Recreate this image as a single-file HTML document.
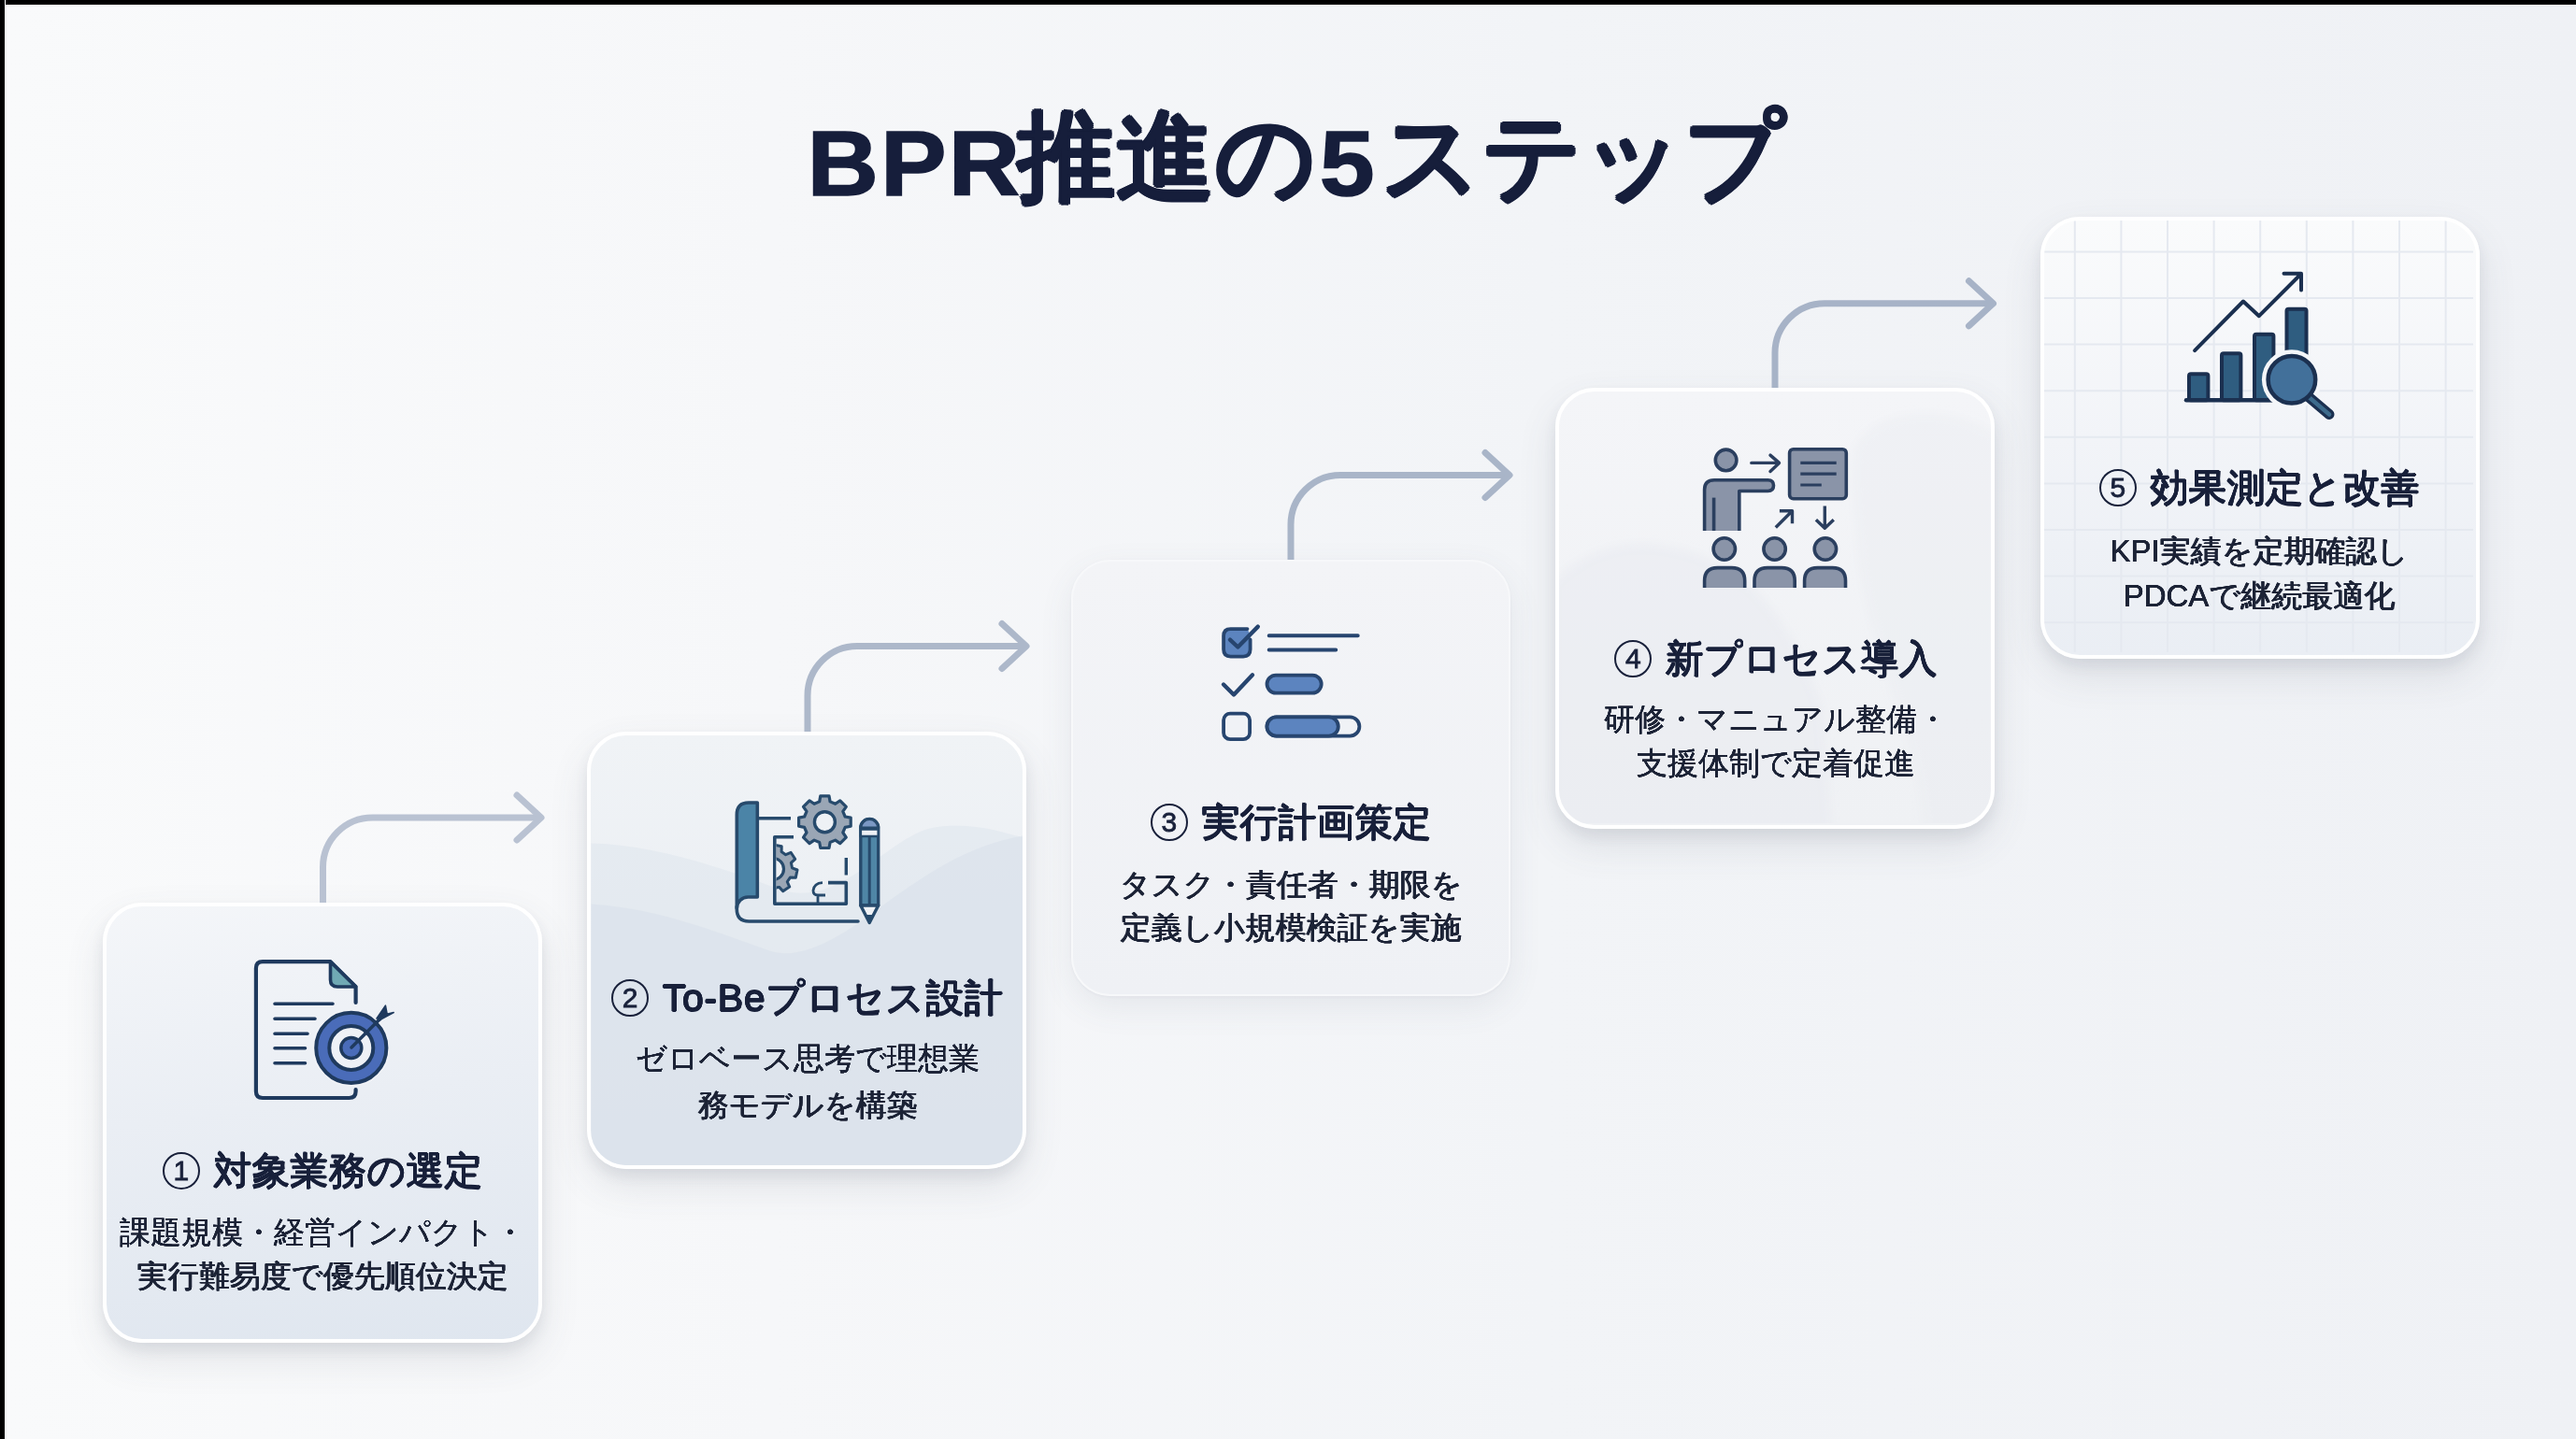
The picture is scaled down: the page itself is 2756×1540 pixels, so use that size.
<!DOCTYPE html>
<html lang="ja">
<head>
<meta charset="utf-8">
<style>
html,body{margin:0;padding:0;}
body{width:2756px;height:1540px;overflow:hidden;position:relative;font-family:"Liberation Sans",sans-serif;color:#1a2238;
background:linear-gradient(90deg,#f9fafb 0%,#f6f7f9 30%,#f2f4f7 60%,#eff1f5 100%);}
.bt{position:absolute;left:0;top:0;width:2756px;height:5px;background:#000;box-shadow:0 1px 0 #fff;}
.bl{position:absolute;left:0;top:0;width:5px;height:1540px;background:#000;box-shadow:1px 0 0 #fff;}
.title{position:absolute;left:10px;width:2756px;text-align:center;top:97px;font-size:106px;line-height:140px;font-weight:700;color:#161e3b;white-space:nowrap;}
.card{position:absolute;width:462px;height:462px;border-radius:42px;border:4.5px solid #fff;box-sizing:content-box;box-shadow:0 8px 14px rgba(70,80,100,.09),0 18px 42px rgba(70,80,100,.12);overflow:hidden;}
#c1{left:110px;top:966px;height:463px;background:linear-gradient(172deg,#f4f6f9 0%,#eaeef4 45%,#dfe6ef 100%);}
#c2{left:628px;top:783px;height:460px;background:linear-gradient(180deg,#f0f3f6 0%,#eaeef3 60%,#e6ebf1 100%);}
#c3{left:1146px;top:599px;background:linear-gradient(180deg,#f3f4f7 0%,#eff1f5 100%);border:2px solid #f7f8fa;width:466px;height:463px;box-shadow:0 12px 36px rgba(80,90,115,.09),0 1px 3px rgba(80,90,115,.06);}
#c4{left:1664px;top:414.5px;height:464px;background:linear-gradient(180deg,#f4f5f8 0%,#eff1f4 100%);}
#c5{left:2182.5px;top:231.5px;height:465px;background:linear-gradient(180deg,#fafbfc 0%,#f2f4f8 50%,#eaeef4 100%);}
.lt{display:inline-block;position:relative;top:5px;font-size:98px;transform:scaleX(1.08);margin:0 6px 0 6px;letter-spacing:3px;-webkit-text-stroke:1.5px #161e3b;}
.cj{font-weight:400;text-shadow:2.60px 0.00px 0 #161e3b,1.84px 1.84px 0 #161e3b,0.00px 2.60px 0 #161e3b,-1.84px 1.84px 0 #161e3b,-2.60px 0.00px 0 #161e3b,-1.84px -1.84px 0 #161e3b,-0.00px -2.60px 0 #161e3b,1.84px -1.84px 0 #161e3b,1.30px 0.00px 0 #161e3b,0.92px 0.92px 0 #161e3b,0.00px 1.30px 0 #161e3b,-0.92px 0.92px 0 #161e3b,-1.30px 0.00px 0 #161e3b,-0.92px -0.92px 0 #161e3b,-0.00px -1.30px 0 #161e3b,0.92px -0.92px 0 #161e3b;}
.cn{display:inline-block;box-sizing:border-box;width:40px;height:40px;border:2.2px solid #18203a;border-radius:50%;font-size:30px;line-height:36px;text-align:center;font-weight:400;text-shadow:none;-webkit-text-stroke:0.8px #18203a;vertical-align:middle;position:relative;top:-3px;margin-right:3px;}
.t{position:absolute;width:600px;text-align:center;white-space:nowrap;}
.h{font-size:41px;font-weight:400;line-height:50px;color:#18203a;text-shadow:0.65px 0.00px 0 currentColor,0.46px 0.46px 0 currentColor,0.00px 0.65px 0 currentColor,-0.46px 0.46px 0 currentColor,-0.65px 0.00px 0 currentColor,-0.46px -0.46px 0 currentColor,-0.00px -0.65px 0 currentColor,0.46px -0.46px 0 currentColor;}
.d{font-size:33px;font-weight:400;line-height:46px;color:#1c2336;text-shadow:0.25px 0.00px 0 currentColor,0.00px 0.25px 0 currentColor,-0.25px 0.00px 0 currentColor,-0.00px -0.25px 0 currentColor;}
svg.ov{position:absolute;left:0;top:0;}
svg.ci{position:absolute;left:0;top:0;}
</style>
</head>
<body>
<div class="bt"></div><div class="bl"></div>
<div class="title"><span class="lt" style="margin-right:8px;margin-left:0;left:5px;letter-spacing:2px">BPR</span><span class="cj">推進の</span><span class="lt">5</span><span class="cj">ステップ</span></div>

<div class="card" id="c1"></div>
<div class="card" id="c2"><svg class="ci" width="462" height="462" viewBox="632.5 787.5 462 462">
<path d="M633 903 C700 905 760 925 834 952 C900 975 950 895 1000 886 C1040 880 1070 890 1095 897 V1252 H633Z" fill="#dfe5ed" opacity=".55"/>
<path d="M633 968 C700 972 760 995 824 1018 C860 1030 905 1000 951 965 C1000 930 1040 905 1095 895 V1252 H633Z" fill="#d5dde8" opacity=".45"/>
</svg></div>
<div class="card" id="c3"></div>
<div class="card" id="c4"><svg class="ci" width="462" height="462" viewBox="1668.5 419.5 462 462">
<defs><filter id="bl4" x="-20%" y="-20%" width="140%" height="140%"><feGaussianBlur stdDeviation="5"/></filter></defs>
<g filter="url(#bl4)">
<path d="M1660 625 C1690 595 1725 582 1760 583 C1805 585 1840 600 1870 625 C1900 650 1930 700 1950 760 L1960 900 H1660Z" fill="#e7eaef" opacity=".5"/>
<path d="M1985 480 C2000 450 2040 440 2080 445 C2120 450 2140 470 2140 470 V900 H2060 C2060 800 2000 700 1990 600 C1985 550 1980 510 1985 480Z" fill="#e9ecf0" opacity=".4"/>
</g>
</svg></div>
<div class="card" id="c5"><svg class="ci" width="462" height="462" viewBox="2188 237 462 462">
<path d="M2220.8 237V700M2188 270.4H2647M2270.4 237V700M2188 320.0H2647M2320.0 237V700M2188 369.6H2647M2369.6 237V700M2188 419.2H2647M2419.2 237V700M2188 468.8H2647M2468.8 237V700M2188 518.4H2647M2518.4 237V700M2188 568.0H2647M2568.0 237V700M2188 617.6H2647M2617.6 237V700M2188 667.2H2647" stroke="#e5e9f0" stroke-width="2" fill="none"/>
</svg></div>

<svg class="ov" width="2756" height="1540" viewBox="0 0 2756 1540">
<g fill="none" stroke-linejoin="round" stroke-width="7">
<path d="M345.5 966 V928 a53 53 0 0 1 53 -53 H577" stroke="#b9c2d2" stroke-linecap="butt"/>
<path d="M553 851 L579 875 L553 899" stroke="#b9c2d2" stroke-linecap="round"/>
<path d="M864 783 V744.5 a53 53 0 0 1 53 -53 H1096" stroke="#adb8ca" stroke-linecap="butt"/>
<path d="M1072 667.5 L1098 691.5 L1072 715.5" stroke="#adb8ca" stroke-linecap="round"/>
<path d="M1381 599 V561.5 a53 53 0 0 1 53 -53 H1613" stroke="#a9b5c8" stroke-linecap="butt"/>
<path d="M1589 484.5 L1615 508.5 L1589 532.5" stroke="#a9b5c8" stroke-linecap="round"/>
<path d="M1899 415 V377.8 a53 53 0 0 1 53 -53 H2130.5" stroke="#a7b3c7" stroke-linecap="butt"/>
<path d="M2106.5 300.8 L2132.5 324.8 L2106.5 348.8" stroke="#a7b3c7" stroke-linecap="round"/>
</g>

<!-- icon 1 -->
<g fill="none" stroke="#1f3a5e" stroke-linecap="round" stroke-linejoin="round">
<path d="M380.6 1073 V1056 L353.5 1029.2 H281 Q273.9 1029.2 273.9 1036.3 V1168 Q273.9 1175 281 1175 H373.5 Q380.6 1175 380.6 1168 V1166" stroke-width="4.2"/>
<path d="M353.5 1029.2 V1048.5 Q353.5 1056 361 1056 H380.6 Z" fill="#70a9b4" stroke-width="3.6"/>
<path d="M294 1074.3 H356 M294 1090.3 H337 M294 1106.2 H329 M294 1121.8 H326.5 M294 1137.8 H326.5" stroke-width="3.6"/>
<circle cx="375.8" cy="1121.4" r="41.5" fill="#f0f2f6" stroke="none"/>
<circle cx="375.8" cy="1121.4" r="37.6" fill="#4a6cb9" stroke-width="4"/>
<circle cx="375.8" cy="1121.4" r="23.5" fill="#eef1f6" stroke-width="4"/>
<circle cx="375.8" cy="1121.4" r="11" fill="#4a6cb9" stroke-width="3.5"/>
<path d="M376 1121 L407 1090" stroke-width="3.5"/>
<path d="M403 1090 L412.4 1076.2 L414 1084.5 L407 1090.5 Z M404.5 1092.5 L421.2 1083.6 L413 1085.6 L406.5 1092 Z" fill="#1f3a5e" stroke-width="1.6"/>
</g>
<!-- icon 2 -->
<g fill="none" stroke="#274a6c" stroke-linecap="butt" stroke-linejoin="round">
<path d="M810.3 960 V859 H801 Q788.3 859 788.3 872 V972 A12 12 0 0 1 800.3 960 Z" fill="#4b84a7" stroke-width="3.6"/>
<path d="M788.3 970 V973 Q788.3 986 801.3 986 H918" stroke-width="3.6" stroke-linecap="round"/>
<path d="M810.3 875.7 H846" stroke-width="3.4"/>
<path d="M849 895.8 H828.8 V967.3 H905.3 V944.6 H886" stroke-width="3.6"/>
<path d="M905.3 918 V936.5" stroke-width="3.4"/>
<path d="M880 944.6 Q871 945 870 953 Q870 958 875 958 H883 M875 958 V967" stroke-width="2.8"/>
<path d="M876.7 857.9 L877.8 851.9 L887.0 851.9 L888.1 857.9 L893.7 860.3 L898.8 856.8 L905.3 863.3 L901.8 868.4 L904.2 874.0 L910.2 875.1 L910.2 884.3 L904.2 885.4 L901.8 891.0 L905.3 896.1 L898.8 902.6 L893.7 899.1 L888.1 901.5 L887.0 907.5 L877.8 907.5 L876.7 901.5 L871.1 899.1 L866.0 902.6 L859.5 896.1 L863.0 891.0 L860.6 885.4 L854.6 884.3 L854.6 875.1 L860.6 874.0 L863.0 868.4 L859.5 863.3 L866.0 856.8 L871.1 860.3Z" fill="#9aa6b5" stroke-width="3.2"/>
<circle cx="882.4" cy="879.7" r="11" fill="#eef1f5" stroke-width="3.4"/>
<clipPath id="hg"><rect x="830.6" y="890" width="40" height="80"/></clipPath>
<g clip-path="url(#hg)">
<path d="M825.8 909.5 L828.0 904.0 L836.2 905.7 L836.1 911.6 L840.6 914.7 L846.1 912.3 L850.7 919.3 L846.4 923.4 L847.5 928.8 L853.0 931.0 L851.3 939.2 L845.4 939.1 L842.3 943.6 L844.7 949.1 L837.7 953.7 L833.6 949.4 L828.2 950.5 L826.0 956.0 L817.8 954.3 L817.9 948.4 L813.4 945.3 L807.9 947.7 L803.3 940.7 L807.6 936.6 L806.5 931.2 L801.0 929.0 L802.7 920.8 L808.6 920.9 L811.7 916.4 L809.3 910.9 L816.3 906.3 L820.4 910.6Z" fill="#9aa6b5" stroke-width="3"/>
<circle cx="827" cy="930" r="11.5" fill="#eef1f5" stroke-width="3.2"/>
</g>
<path d="M920.8 969 V886 A9.45 9.45 0 0 1 939.7 886 V969 Z" fill="#4f86a6" stroke-width="3.4"/>
<path d="M920.8 886 A9.45 9.45 0 0 1 939.7 886 Z" fill="#7b98c4" stroke-width="3"/>
<path d="M920.8 887.5 H939.7 V895 H920.8 Z" fill="#eef1f5" stroke-width="2.6"/>
<path d="M930.2 895 V969" stroke-width="3"/>
<path d="M920.8 969 L930.2 987.5 L939.7 969 Z" fill="#eef1f5" stroke-width="3.4"/>
<path d="M927 980 L930.2 987.5 L933.4 980 Z" fill="#274a6c" stroke-width="2"/>
</g>
<!-- icon 3 -->
<g fill="none" stroke="#27456f" stroke-linecap="round" stroke-linejoin="round">
<rect x="1309.1" y="673.1" width="28.5" height="29.5" rx="7.5" fill="#5c84bf" stroke="none"/>
<path d="M1334.5 673.1 H1316.6 Q1309.1 673.1 1309.1 680.6 V695.1 Q1309.1 702.6 1316.6 702.6 H1330.1 Q1337.6 702.6 1337.6 695.1 V684.5" stroke-width="3.8" stroke-linecap="round"/>
<path d="M1316 684.7 L1324.4 692.5 L1345.8 670.6" stroke-width="4.4"/>
<path d="M1357.7 680.3 H1452.7 M1357.7 695.4 H1429.2" stroke-width="4"/>
<path d="M1309 732.5 L1320 743.5 L1340 722.3" stroke-width="4.4"/>
<rect x="1355.5" y="722.6" width="58.2" height="19" rx="9.5" fill="#5c84bf" stroke-width="3.8"/>
<rect x="1309.1" y="763.7" width="28" height="27.5" rx="7" fill="#f0f2f6" stroke-width="3.8"/>
<rect x="1355.5" y="767.4" width="98.9" height="20.2" rx="10.1" fill="#f0f2f6" stroke-width="3.8"/>
<rect x="1355.5" y="767.4" width="76.3" height="20.2" rx="10.1" fill="#5c84bf" stroke-width="3.8"/>
</g>
<!-- icon 4 -->
<g fill="#8a94a8" stroke="#2b3f5f" stroke-linecap="butt" stroke-linejoin="round" stroke-width="3.6">
<circle cx="1846.6" cy="492.4" r="11.3"/>
<path d="M1823.6 568 V524 Q1823.6 513.7 1834 513.7 H1891.5 Q1897.5 513.7 1897.5 519.6 Q1897.5 525.5 1891.5 525.5 H1860.8 V568"/>
<path d="M1833.6 532.6 V568" fill="none"/>
<rect x="1914.6" y="480.7" width="60.7" height="53" rx="4"/>
<path d="M1926.3 495.4 H1964.7 M1926.3 507.2 H1964.7 M1926.3 519 H1948.8" fill="none" stroke-width="3.2"/>
<path d="M1873.8 495.4 H1903 M1894 487.1 L1903.5 495.4 L1894 504.5" fill="none" stroke-width="3.4" stroke-linecap="round"/>
<path d="M1899.8 564.5 L1917.5 546.8 M1903.9 546.8 H1917.5 V560.3" fill="none" stroke-width="3.4"/>
<path d="M1952.3 541.5 V565 M1942.9 556.2 L1952.3 565.2 L1961.8 556.2" fill="none" stroke-width="3.4"/>
<circle cx="1844.8" cy="587.5" r="11.7"/>
<circle cx="1898.6" cy="587.5" r="11.7"/>
<circle cx="1952.9" cy="587.5" r="11.7"/>
<path d="M1823.6 629 V621.6 Q1823.6 607.6 1837.6 607.6 H1852.7 Q1866.7 607.6 1866.7 621.6 V629"/>
<path d="M1877 629 V621.6 Q1877 607.6 1891 607.6 H1906.2 Q1920.2 607.6 1920.2 621.6 V629"/>
<path d="M1930.6 629 V621.6 Q1930.6 607.6 1944.6 607.6 H1960.5 Q1974.5 607.6 1974.5 621.6 V629"/>
</g>
<!-- icon 5 -->
<g fill="none" stroke="#1b3050" stroke-linecap="round" stroke-linejoin="round">
<rect x="2342" y="400.2" width="20.4" height="28" rx="2" fill="#2f5d80" stroke-width="4"/>
<rect x="2377" y="378.3" width="20.4" height="50" rx="2" fill="#2f5d80" stroke-width="4"/>
<rect x="2412" y="357.7" width="20.4" height="70.6" rx="2" fill="#2f5d80" stroke-width="4"/>
<rect x="2446.5" y="330.8" width="21" height="97.5" rx="2" fill="#2f5d80" stroke-width="4"/>
<path d="M2339 428.3 H2432" stroke-width="4.5"/>
<path d="M2348.1 375.1 L2400 322.5 L2416.9 338.2 L2461 294 M2443.5 292.8 H2462 V310.6" stroke-width="4"/>
<circle cx="2451.9" cy="406.3" r="32" fill="#f4f6f9" stroke="none"/>
<path d="M2469 424 L2492 443.5" stroke-width="11"/>
<path d="M2469 424 L2492 443.5" stroke="#3d6b8c" stroke-width="4.5"/>
<circle cx="2451.9" cy="406.3" r="25.3" fill="#42709a" stroke-width="4.5"/>
</g>
</svg>

<div class="t h" style="left:45px;top:1228px"><span class="cn">1</span> 対象業務の選定</div>
<div class="t d" style="left:45px;top:1296px">課題規模・経営インパクト・</div>
<div class="t d" style="left:45px;top:1343px">実行難易度で優先順位決定</div>

<div class="t h" style="left:564px;top:1043px;letter-spacing:0.7px"><span class="cn">2</span> To-Beプロセス設計</div>
<div class="t d" style="left:564px;top:1110px">ゼロベース思考で理想業</div>
<div class="t d" style="left:564px;top:1160px">務モデルを構築</div>

<div class="t h" style="left:1081px;top:855px"><span class="cn">3</span> 実行計画策定</div>
<div class="t d" style="left:1081px;top:924px">タスク・責任者・期限を</div>
<div class="t d" style="left:1081px;top:970px">定義し小規模検証を実施</div>

<div class="t h" style="left:1600px;top:680px"><span class="cn">4</span> 新プロセス導入</div>
<div class="t d" style="left:1600px;top:747px">研修・マニュアル整備・</div>
<div class="t d" style="left:1600px;top:794px">支援体制で定着促進</div>

<div class="t h" style="left:2117px;top:497px"><span class="cn">5</span> 効果測定と改善</div>
<div class="t d" style="left:2117px;top:567px">KPI実績を定期確認し</div>
<div class="t d" style="left:2117px;top:615px">PDCAで継続最適化</div>
</body>
</html>
